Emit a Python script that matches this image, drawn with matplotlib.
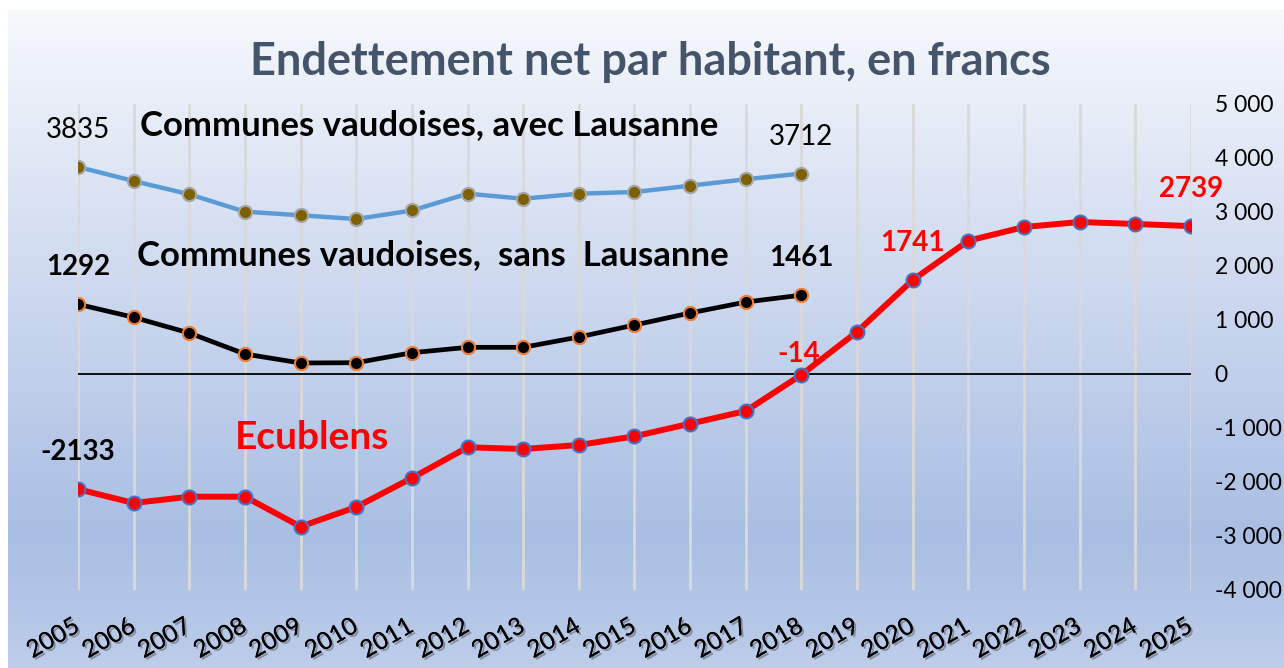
import numpy as np
import matplotlib
matplotlib.use("Agg")
import matplotlib.pyplot as plt
import matplotlib.patheffects as pe
from matplotlib.colors import LinearSegmentedColormap
from matplotlib.ticker import FuncFormatter, MultipleLocator

plt.rcParams['font.family'] = ['Lato', 'DejaVu Sans']

# data
years = [str(y) for y in range(2005, 2026)]
avec_lausanne = [3835, 3574, 3328, 3006, 2939, 2870, 3028, 3339, 3246, 3339,
                 3370, 3487, 3606, 3712]
sans_lausanne = [1292, 1050, 759, 370, 204, 209, 394, 494, 494, 685,
                 907, 1130, 1333, 1461]
ecublens = [-2133, -2389, -2272, -2272, -2827, -2463, -1926, -1357, -1389, -1315,
            -1154, -920, -685, -14, 783, 1741, 2469, 2722, 2815, 2778, 2739]

TITLE = 'Endettement net par habitant, en francs'
LBL_AVEC = 'Communes vaudoises, avec Lausanne'
LBL_SANS = 'Communes vaudoises,  sans  Lausanne'
LBL_ECU = 'Ecublens'

W, H = 1284, 668
fig = plt.figure(figsize=(W / 100, H / 100), dpi=100)
fig.patch.set_facecolor('white')

# background gradient (white-ish at top, blue at bottom)
bg = fig.add_axes([8 / W, 0, 1 - 8 / W, 1 - 10 / H], zorder=0)
cmap = LinearSegmentedColormap.from_list(
    'bg', [(0.0, '#f6f8fc'), (0.35, '#d4def1'), (0.8, '#a9bee3'), (1.0, '#bdcdea')])
grad = np.linspace(0, 1, 256).reshape(-1, 1)
bg.imshow(grad, aspect='auto', cmap=cmap, extent=[0, 1, 0, 1], origin='upper')
bg.axis('off')

# plot area
ax = fig.add_axes([78 / W, 1 - 590 / H, (1191 - 78) / W, (590 - 104) / H], zorder=1)
ax.patch.set_alpha(0)
x_all = np.arange(len(years))

ax.plot(x_all[:len(avec_lausanne)], avec_lausanne, color='#5b9bd5', lw=3.2,
        marker='o', ms=9.5, mfc='#7f6000', mec='#a5a5a5', mew=1.5, zorder=3)
ax.plot(x_all[:len(sans_lausanne)], sans_lausanne, color='black', lw=3.4,
        marker='o', ms=9.5, mfc='black', mec='#ed7d31', mew=1.5, zorder=3)
ax.plot(x_all, ecublens, color='#ff0000', lw=4.3,
        marker='o', ms=10, mfc='#ff0000', mec='#4472c4', mew=1.5, zorder=4)

ax.axhline(0, color='black', lw=1.3, zorder=2)

ax.set_xlim(0, len(years) - 1)
ax.set_ylim(-4000, 5000)
ax.yaxis.set_major_locator(MultipleLocator(1000))
ax.yaxis.set_major_formatter(FuncFormatter(lambda v, p: f"{int(v):,}".replace(",", " ")))
ax.yaxis.tick_right()
ax.set_xticks(x_all)
ax.set_xticklabels(years)
ax.tick_params(axis='y', length=0, pad=17, labelsize=16.5, labelcolor='black')
ax.tick_params(axis='x', length=0, pad=25, labelsize=17.5, labelcolor='black')
for t in ax.get_xticklabels():
    t.set_rotation(30)
    t.set_ha('right')
    t.set_va('center')
    t.set_rotation_mode('anchor')
    t.set_path_effects([pe.withSimplePatchShadow(offset=(1.5, -1.5), shadow_rgbFace='#444444', alpha=0.45),
                        pe.Normal()])

ax.grid(axis='x', color='#d9d9d9', lw=2)
ax.grid(axis='y', visible=False)
for s in ax.spines.values():
    s.set_visible(False)

# value labels
def value_label(i, series, bold, color, dy=26.5, dx=0):
    ax.annotate(str(series[i]), (x_all[i], series[i]), xytext=(dx, dy),
                textcoords='offset points', ha='center', va='center',
                fontsize=20, fontweight='bold' if bold else 'normal', color=color, zorder=5)

value_label(0, avec_lausanne, False, 'black')
value_label(len(avec_lausanne) - 1, avec_lausanne, False, 'black')
value_label(0, sans_lausanne, True, 'black')
value_label(len(sans_lausanne) - 1, sans_lausanne, True, 'black')
value_label(0, ecublens, True, 'black')
value_label(13, ecublens, True, '#ff0000', dy=15, dx=-2)
value_label(15, ecublens, True, '#ff0000')
value_label(20, ecublens, True, '#ff0000')

# series names
ax.text(1.11, 4611, LBL_AVEC, fontsize=25, fontweight='bold', color='black', va='center', ha='left')
ax.text(1.06, 2204, LBL_SANS, fontsize=25, fontweight='bold', color='black', va='center', ha='left')
ax.text(2.82, -1185, LBL_ECU, fontsize=28, fontweight='bold', color='#ff0000', va='center', ha='left')

fig.text(650 / W, 1 - 62 / H, TITLE, fontsize=32.5, fontweight='bold', color='#44546a',
         ha='center', va='center')

fig.savefig('out.png', dpi=100)
